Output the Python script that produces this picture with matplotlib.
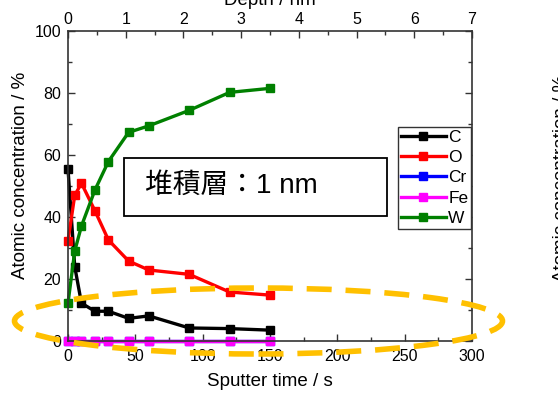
import matplotlib
matplotlib.use('Agg')
import matplotlib.pyplot as plt
from matplotlib.patches import Ellipse, Rectangle
from matplotlib.ticker import MultipleLocator

plt.rcParams['font.family'] = ['Liberation Sans', 'Noto Sans CJK JP']

# sputter depth profile
time_s = [0, 5, 10, 20, 30, 45, 60, 90, 120, 150]
conc_C = [55.5, 24.0, 12.2, 9.6, 9.6, 7.3, 8.1, 4.2, 4.0, 3.5]
conc_O = [32.3, 47.0, 50.9, 42.0, 32.6, 25.8, 22.9, 21.5, 15.8, 14.8]
conc_Cr = [0, 0, 0, 0, 0, 0, 0, 0, 0, 0]
conc_Fe = [0, 0, 0, 0, 0, 0, 0, 0, 0, 0]
conc_W = [12.2, 29.0, 37.1, 48.7, 57.9, 67.3, 69.4, 74.4, 80.2, 81.5]

elements = ['C', 'O', 'Cr', 'Fe', 'W']
series = [conc_C, conc_O, conc_Cr, conc_Fe, conc_W]
colors = ['black', '#ff0000', '#0000ff', '#ff00ff', '#008000']

W_PX, H_PX = 558, 403
fig = plt.figure(figsize=(W_PX / 100, H_PX / 100), dpi=100)
ax = fig.add_axes([68 / W_PX, 1 - 341 / H_PX, 404 / W_PX, 310 / H_PX])

for name, vals, c in zip(elements, series, colors):
    ax.plot(time_s, vals, color=c, lw=2.4, marker='s', ms=5.5, label=name,
            clip_on=False)

ax.set_xlim(0, 300)
ax.set_ylim(0, 100)
ax.xaxis.set_major_locator(MultipleLocator(50))
ax.xaxis.set_minor_locator(MultipleLocator(25))
ax.yaxis.set_major_locator(MultipleLocator(20))
ax.yaxis.set_minor_locator(MultipleLocator(10))
ax.tick_params(which='both', direction='in', top=False, right=True,
               width=1, color='#333333', labelsize=11.5)
ax.tick_params(which='major', length=5)
ax.tick_params(which='minor', length=3)
ax.tick_params(axis='y', pad=5)
ax.tick_params(axis='x', pad=6)
for sp in ax.spines.values():
    sp.set_color('#333333')
    sp.set_linewidth(1.2)

# depth scale on top: 300 s = 7 nm
top = ax.secondary_xaxis('top', functions=(lambda t: t * 7 / 300,
                                           lambda d: d * 300 / 7))
top.xaxis.set_major_locator(MultipleLocator(1))
top.xaxis.set_minor_locator(MultipleLocator(0.5))
top.tick_params(which='both', direction='in', width=1, color='#333333',
                labelsize=11.5, pad=3)
top.tick_params(which='major', length=5)
top.tick_params(which='minor', length=3)
top.spines['top'].set_visible(False)

fig.text(270 / W_PX, 1 - 5 / H_PX, 'Depth / nm', ha='center',
         va='baseline', fontsize=13.5)
fig.text(270 / W_PX, 1 - 382 / H_PX, 'Sputter time / s', ha='center',
         va='center', fontsize=13.5)
fig.text(21 / W_PX, 1 - 175 / H_PX, 'Atomic concentration / %',
         rotation=90, ha='center', va='center', fontsize=13.5)
# label of the neighbouring panel, cut at the edge
fig.text(561 / W_PX, 1 - 178 / H_PX, 'Atomic concentration / %',
         rotation=90, ha='center', va='center', fontsize=13.5)

leg = ax.legend(loc='upper left', bbox_to_anchor=((398 - 68) / 404, (341 - 127) / 310),
                frameon=True, fancybox=False, framealpha=1, edgecolor='#333333',
                fontsize=12.5, handlelength=2.6, handletextpad=0.15,
                borderpad=0.15, labelspacing=0.3, borderaxespad=0)
leg.get_frame().set_linewidth(1)

# annotation box
fig.add_artist(Rectangle((124 / W_PX, 1 - 216 / H_PX), 263 / W_PX, 58 / H_PX,
                         transform=fig.transFigure, fill=False,
                         edgecolor='black', lw=1.3))
fig.text(145 / W_PX, 1 - 186 / H_PX, '堆積層：1 nm', ha='left', va='center',
         fontsize=20)

# highlight of the low concentration region
fig.add_artist(Ellipse((258.5 / W_PX, 1 - 321 / H_PX), 488 / W_PX, 66 / H_PX,
                       transform=fig.transFigure, fill=False,
                       edgecolor='#ffc000', lw=4,
                       linestyle=(0, (4.5, 2.5)), zorder=5))

fig.savefig('out.png', dpi=100)
